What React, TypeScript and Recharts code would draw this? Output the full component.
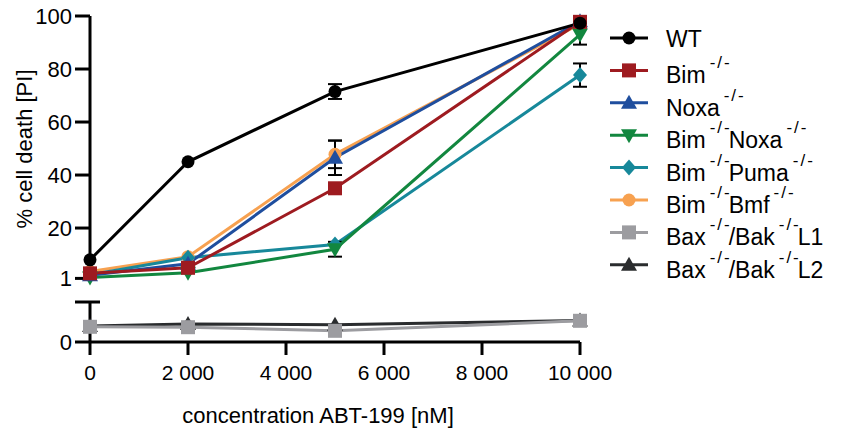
import { ErrorBar, Line, LineChart, XAxis, YAxis } from 'recharts'

const FONT = '"Liberation Sans", Arial, sans-serif'

// concentration ABT-199 [nM]
const concentrations = [0, 2000, 5000, 10000]
const xTicks = [0, 2000, 4000, 6000, 8000, 10000]
const upperTicks = [1, 20, 40, 60, 80, 100]
const lowerTicks = [0, 1]

// % cell death, upper segment (1-100)
const wt = [8, 45, 71.5, 97.3]
const wtErr = [0, 0, 2.8, 0]
const bim = [2.9, 5, 35, 97.8]
const bimErr = [0, 0, 0, 0]
const noxa = [2.2, 6.5, 46.5, 98]
const noxaErr = [0, 0, 6.5, 0]
const bimNoxa = [1.3, 3.1, 12, 93]
const bimNoxaErr = [0, 0, 2.8, 3.8]
const bimPuma = [2.4, 8.8, 13.8, 77.7]
const bimPumaErr = [0, 0, 0, 4.4]
const bimBmf = [3.6, 9.2, 47.8, 97]
const bimBmfErr = [0, 0, 5.2, 0]

// lower segment (0-1)
const baxBakL1 = [0.38, 0.37, 0.28, 0.53]
const baxBakL2 = [0.4, 0.45, 0.43, 0.54]

type Shape = 'circle' | 'square' | 'triangle' | 'triangleDown' | 'diamond'
type Seg = { t: string; sup?: boolean }
type Series = { key: string; color: string; shape: Shape; values: number[]; errors?: number[]; label: Seg[] }

const upperSeries: Series[] = [
  { key: 'wt', color: '#000000', shape: 'circle', values: wt, errors: wtErr, label: [{ t: 'WT' }] },
  { key: 'bim', color: '#9e1b20', shape: 'square', values: bim, errors: bimErr, label: [{ t: 'Bim', sup: true }] },
  { key: 'noxa', color: '#1f4e9e', shape: 'triangle', values: noxa, errors: noxaErr, label: [{ t: 'Noxa', sup: true }] },
  {
    key: 'bimNoxa', color: '#12873f', shape: 'triangleDown', values: bimNoxa, errors: bimNoxaErr,
    label: [{ t: 'Bim', sup: true }, { t: 'Noxa', sup: true }],
  },
  {
    key: 'bimPuma', color: '#17889a', shape: 'diamond', values: bimPuma, errors: bimPumaErr,
    label: [{ t: 'Bim', sup: true }, { t: 'Puma', sup: true }],
  },
  {
    key: 'bimBmf', color: '#f7a150', shape: 'circle', values: bimBmf, errors: bimBmfErr,
    label: [{ t: 'Bim', sup: true }, { t: 'Bmf', sup: true }],
  },
]

const lowerSeries: Series[] = [
  {
    key: 'l1', color: '#9c9ca0', shape: 'square', values: baxBakL1,
    label: [{ t: 'Bax', sup: true }, { t: '/Bak', sup: true }, { t: 'L1' }],
  },
  {
    key: 'l2', color: '#2a2c2e', shape: 'triangle', values: baxBakL2,
    label: [{ t: 'Bax', sup: true }, { t: '/Bak', sup: true }, { t: 'L2' }],
  },
]

const buildRows = (list: Series[]) =>
  concentrations.map((x, i) => {
    const row: Record<string, number> = { x }
    list.forEach(s => {
      row[s.key] = s.values[i]
      if (s.errors) row[s.key + 'Err'] = s.errors[i]
    })
    return row
  })

const upperData = buildRows(upperSeries)
const lowerData = buildRows(lowerSeries)

const fmtThousands = (v: number) => String(v).replace(/\B(?=(\d{3})+(?!\d))/g, ' ')

function Marker({ cx, cy, shape, color }: { cx?: number; cy?: number; shape: Shape; color: string }) {
  if (cx == null || cy == null) return null
  switch (shape) {
    case 'circle':
      return <circle cx={cx} cy={cy} r={6.5} fill={color} />
    case 'square':
      return <rect x={cx - 7} y={cy - 7} width={14} height={14} fill={color} />
    case 'triangle':
      return <polygon points={`${cx},${cy - 8} ${cx + 8},${cy + 6} ${cx - 8},${cy + 6}`} fill={color} />
    case 'triangleDown':
      return <polygon points={`${cx},${cy + 8} ${cx + 8},${cy - 6} ${cx - 8},${cy - 6}`} fill={color} />
    default:
      return <polygon points={`${cx},${cy - 8} ${cx + 7},${cy} ${cx},${cy + 8} ${cx - 7},${cy}`} fill={color} />
  }
}

const renderLines = (list: Series[]) =>
  [...list].reverse().map(s => (
    <Line
      key={s.key}
      dataKey={s.key}
      stroke={s.color}
      strokeWidth={3}
      isAnimationActive={false}
      dot={(p: any) => <Marker key={`${s.key}-${p.index}`} cx={p.cx} cy={p.cy} shape={s.shape} color={s.color} />}
      activeDot={false}
    >
      {s.errors && (
        <ErrorBar dataKey={s.key + 'Err'} direction="y" width={7} stroke="#000" strokeWidth={2} />
      )}
    </Line>
  ))

const axisProps = {
  axisLine: { stroke: '#000', strokeWidth: 3 },
  tickLine: { stroke: '#000', strokeWidth: 3 },
}

function LowerTick(props: any) {
  const { x, y, payload } = props
  if (payload.value === 0) {
    return (
      <text x={x} y={y} dy="0.36em" textAnchor="end" fontSize={22} fontFamily={FONT} fill="#000">
        0
      </text>
    )
  }
  // break cap on top of lower segment
  return <line x1={x + 18} x2={x + 28} y1={y} y2={y} stroke="#000" strokeWidth={3} />
}

function LegendLabel({ x, y, segs }: { x: number; y: number; segs: Seg[] }) {
  const spans: any[] = []
  let raised = false
  segs.forEach((s, i) => {
    spans.push(
      <tspan key={`t${i}`} dy={raised ? 15 : 0} dx={raised ? -3 : 0} fontSize={23} letterSpacing={0}>
        {s.t}
      </tspan>,
    )
    raised = false
    if (s.sup) {
      spans.push(
        <tspan key={`s${i}`} dy={-15} dx={4} fontSize={17} letterSpacing={2}>
          -/-
        </tspan>,
      )
      raised = true
    }
  })
  return (
    <text x={x} y={y} fontFamily={FONT} fill="#000">
      {spans}
    </text>
  )
}

function ChartLegend() {
  const all = [...upperSeries, ...lowerSeries]
  return (
    <svg width={248} height={300} style={{ position: 'absolute', left: 600, top: 0 }}>
      {all.map((s, i) => {
        const cy = 38 + i * 32.4
        return (
          <g key={s.key}>
            <line x1={10} x2={48} y1={cy} y2={cy} stroke={s.color} strokeWidth={3} />
            <Marker cx={29} cy={cy} shape={s.shape} color={s.color} />
            <LegendLabel x={66} y={cy + (i === 0 ? 9 : 13)} segs={s.label} />
          </g>
        )
      })}
    </svg>
  )
}

export default function App() {
  return (
    <div style={{ position: 'absolute', left: 0, top: 0, width: 848, height: 432, background: '#fff', fontFamily: FONT }}>
      <div style={{ position: 'absolute', left: 0, top: 0 }}>
        <LineChart width={848} height={300} data={upperData} margin={{ top: 16, right: 268, bottom: 21.6, left: 0 }}>
          <XAxis type="number" dataKey="x" domain={[0, 10000]} hide />
          <YAxis
            type="number"
            domain={[1, 100]}
            ticks={upperTicks}
            width={90}
            tickSize={15}
            tickMargin={3}
            tick={{ fontSize: 22, fill: '#000', fontFamily: FONT }}
            {...axisProps}
            label={() => (
              <text
                x={24}
                y={149}
                transform="rotate(-90 24 149)"
                textAnchor="middle"
                dominantBaseline="central"
                fontSize={22}
                fontFamily={FONT}
                fill="#000"
              >
                % cell death [PI]
              </text>
            )}
          />
          {renderLines(upperSeries)}
        </LineChart>
      </div>
      <div style={{ position: 'absolute', left: 0, top: 290 }}>
        <LineChart width={848} height={142} data={lowerData} margin={{ top: 12, right: 268, bottom: 0, left: 0 }}>
          <XAxis
            type="number"
            dataKey="x"
            domain={[0, 10000]}
            ticks={xTicks}
            tickFormatter={fmtThousands}
            height={90}
            tickSize={13}
            tickMargin={10}
            tick={{ fontSize: 21, fill: '#000', fontFamily: FONT }}
            {...axisProps}
            label={{
              value: 'concentration ABT-199 [nM]',
              position: 'insideBottom',
              offset: 9,
              dx: -17,
              fontSize: 22,
              fill: '#000',
              fontFamily: FONT,
            }}
          />
          <YAxis
            type="number"
            domain={[0, 1]}
            ticks={lowerTicks}
            width={90}
            tickSize={15}
            tickMargin={3}
            tick={LowerTick}
            {...axisProps}
          />
          {renderLines(lowerSeries)}
        </LineChart>
      </div>
      <ChartLegend />
    </div>
  )
}
